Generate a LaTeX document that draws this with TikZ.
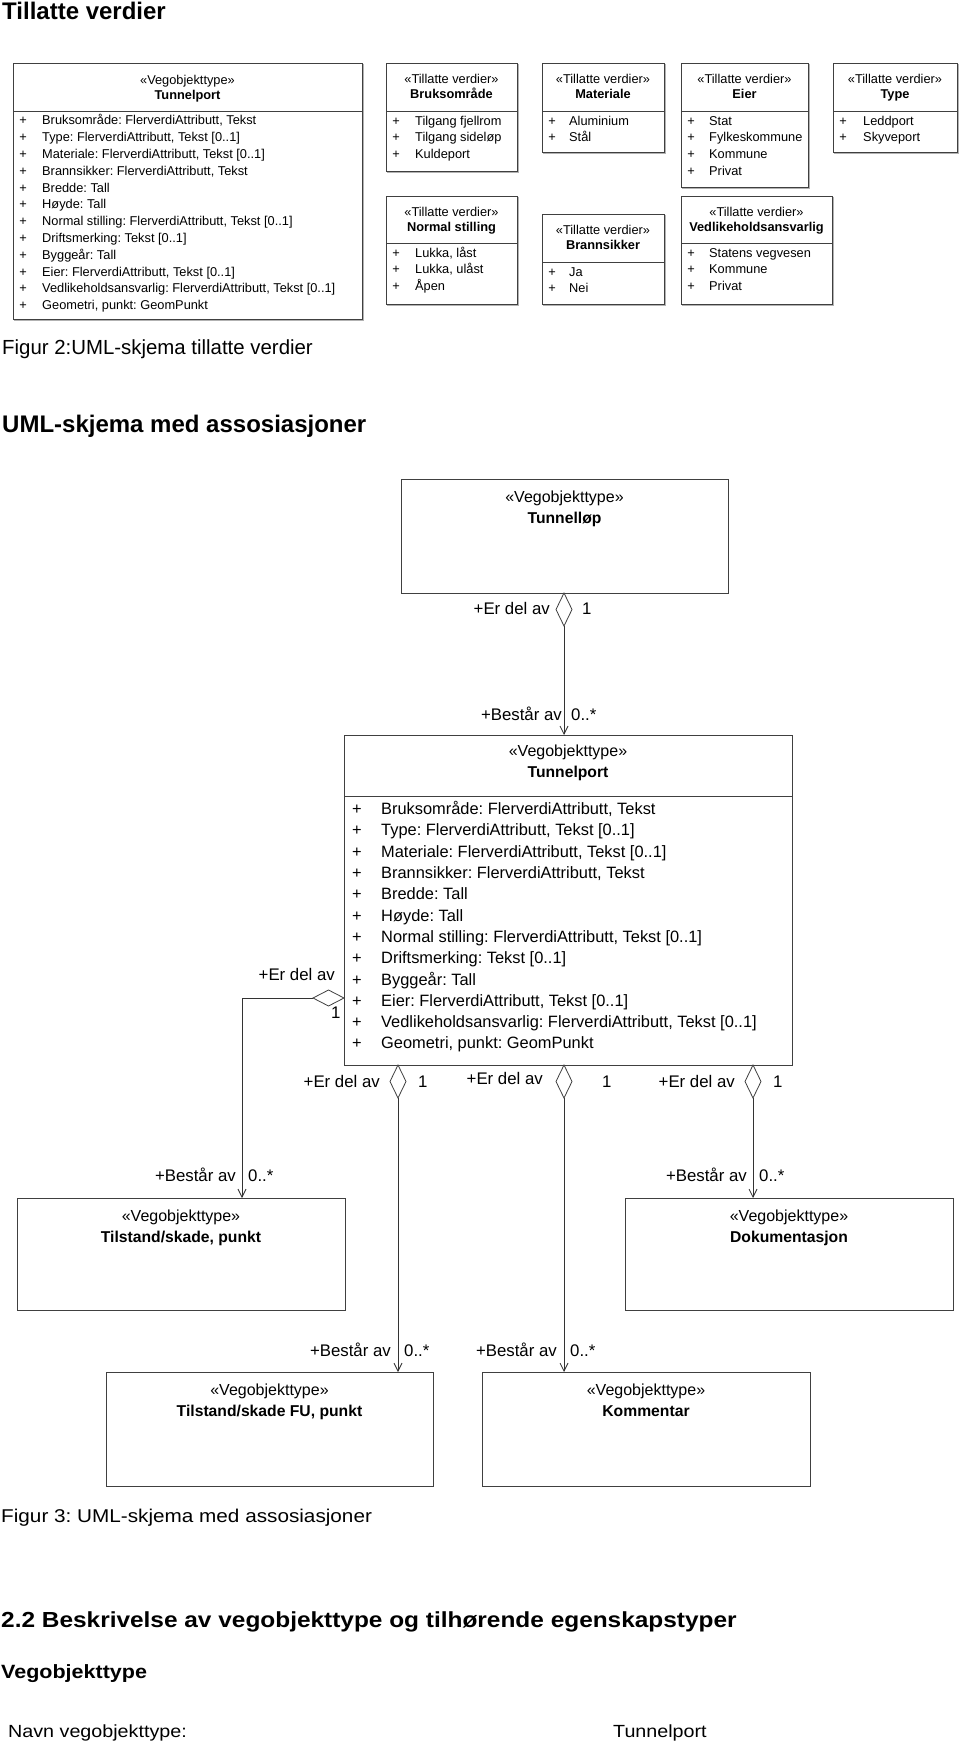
\documentclass[tikz,border=0pt]{standalone}
\usepackage{fontspec}
\setmainfont{Liberation Sans}
\newfontfamily\stretchfont[FakeStretch=1.12]{Liberation Sans}
\usetikzlibrary{shapes.geometric,arrows.meta}

\tikzset{
  umlbox/.style={draw=black!75, line width=0.9pt, anchor=north west, inner sep=0pt, outer sep=0pt},
  boxline/.style={draw=black!75, line width=0.9pt},
  shadowline/.style={draw=black!30, line width=0.9pt},
  sm/.style={font=\fontsize{12.8}{15}\selectfont, inner sep=0pt},
  smb/.style={font=\fontsize{12.8}{15}\selectfont\bfseries, inner sep=0pt},
  lg/.style={font=\fontsize{16}{19}\selectfont, inner sep=0pt},
  lgb/.style={font=\fontsize{15.7}{19}\selectfont\bfseries, inner sep=0pt},
  lrow/.style={font=\fontsize{16.4}{19}\selectfont, inner sep=0pt},
  lbl/.style={font=\fontsize{16.8}{19}\selectfont, inner sep=0pt},
  agg/.style={diamond, draw=black!75, fill=white, line width=0.8pt, inner sep=0pt, outer sep=0pt, minimum width=16pt, minimum height=33pt},
  aggh/.style={diamond, draw=black!75, fill=white, line width=0.8pt, inner sep=0pt, outer sep=0pt, minimum width=31pt, minimum height=16pt},
  assoc/.style={draw=black!80, line width=0.8pt, -{Straight Barb[length=8pt,width=8pt]}},
  ttl/.style={font=\fontsize{24}{28}\selectfont\bfseries, inner sep=0pt, anchor=base west},
  captxt/.style={font=\fontsize{20.4}{24}\selectfont, inner sep=0pt, anchor=base west},
  bcaptxt/.style={font=\stretchfont\fontsize{18.5}{22}\selectfont, inner sep=0pt, anchor=base west},
}

% Tillatte verdier box
\newcommand{\tvbox}[9]{%
  \node[umlbox, minimum width=#4pt, minimum height=#5pt] (#1) at (#2,#3) {};
  \draw[shadowline] ([xshift=1.3pt,yshift=-1pt]#1.north east) -- ([xshift=1.3pt,yshift=-1.3pt]#1.south east) -- ([xshift=1pt,yshift=-1.3pt]#1.south west);
  \draw[boxline] ([yshift=-#6pt]#1.north west) -- ([yshift=-#6pt]#1.north east);
  \node[sm, anchor=mid] (#1-st) at ({#2+#4/2},{#3+17.5}) {«Tillatte verdier»};
  \node[smb, anchor=mid] (#1-nm) at ({#2+#4/2},{#3+32.5}) {#7};
  \foreach \t [count=\i from 0] in {#8} {
    \node[sm, anchor=mid] (#1-p\i) at ({#2+10},{#3+#6+11.5+16.75*\i}) {+};
    \node[sm, anchor=mid west] (#1-r\i) at ({#2+#9},{#3+#6+11.5+16.75*\i}) {\t};
  }
}
% Vegobjekttype box (lower diagram)
\newcommand{\vobox}[6]{%
  \node[umlbox, minimum width=#4pt, minimum height=#5pt] (#1) at (#2,#3) {};
  \node[lg, anchor=mid] (#1-st) at ({#2+#4/2},{#3+21}) {«Vegobjekttype»};
  \node[lgb, anchor=mid] (#1-nm) at ({#2+#4/2},{#3+42}) {#6};
}

\newcommand{\tpattrs}{{Bruksområde: FlerverdiAttributt, Tekst},{Type: FlerverdiAttributt, Tekst [0..1]},{Materiale: FlerverdiAttributt, Tekst [0..1]},{Brannsikker: FlerverdiAttributt, Tekst},{Bredde: Tall},{Høyde: Tall},{Normal stilling: FlerverdiAttributt, Tekst [0..1]},{Driftsmerking: Tekst [0..1]},{Byggeår: Tall},{Eier: FlerverdiAttributt, Tekst [0..1]},{Vedlikeholdsansvarlig: FlerverdiAttributt, Tekst [0..1]},{Geometri, punkt: GeomPunkt}}

\begin{document}
\frenchspacing
\begin{tikzpicture}[x=1pt,y=-1pt]
\useasboundingbox[fill=white] (0,0) rectangle (960,1744);

% ---------- Titles ----------
\node[ttl] (title1) at (2,20) {Tillatte verdier};
\node[captxt] (cap2) at (2,354) {Figur 2:UML-skjema tillatte verdier};
\node[ttl] (title2) at (2,432) {UML-skjema med assosiasjoner};

% ---------- Small Tunnelport ----------
\node[umlbox, minimum width=349pt, minimum height=256pt] (tps) at (13,63) {};
\draw[shadowline] ([xshift=1.3pt,yshift=-1pt]tps.north east) -- ([xshift=1.3pt,yshift=-1.3pt]tps.south east) -- ([xshift=1pt,yshift=-1.3pt]tps.south west);
\draw[boxline] ([yshift=-48pt]tps.north west) -- ([yshift=-48pt]tps.north east);
\node[sm, anchor=mid] (tps-st) at (187.5,81.5) {«Vegobjekttype»};
\node[smb, anchor=mid] (tps-nm) at (187.5,97) {Tunnelport};
\foreach \t [count=\i from 0] in \tpattrs {
  \node[sm, anchor=mid] (tps-p\i) at (23,{122.3+16.8*\i}) {+};
  \node[sm, anchor=mid west] (tps-r\i) at (42,{122.3+16.8*\i}) {\t};
}

% ---------- Tillatte verdier boxes ----------
\tvbox{bruk}{386}{63}{131}{108}{48}{Bruksområde}{{Tilgang fjellrom},{Tilgang sideløp},{Kuldeport}}{29}
\tvbox{mat}{542}{63}{122}{89}{48}{Materiale}{{Aluminium},{Stål}}{27}
\tvbox{eier}{681}{63}{127}{124}{48}{Eier}{{Stat},{Fylkeskommune},{Kommune},{Privat}}{28}
\tvbox{typ}{833}{63}{124}{89}{48}{Type}{{Leddport},{Skyveport}}{30}
\tvbox{norm}{386}{196}{131}{108}{47}{Normal stilling}{{Lukka, låst},{Lukka, ulåst},{Åpen}}{29}
\tvbox{brann}{542}{214}{122}{90}{48}{Brannsikker}{{Ja},{Nei}}{27}
\tvbox{vedl}{681}{196}{151}{108}{47}{Vedlikeholdsansvarlig}{{Statens vegvesen},{Kommune},{Privat}}{28}

% ---------- Lower diagram ----------
\vobox{tl}{401}{479}{327}{114}{Tunnelløp}

\node[umlbox, minimum width=448pt, minimum height=330pt] (tp) at (344,735) {};
\draw[boxline] ([yshift=-61pt]tp.north west) -- ([yshift=-61pt]tp.north east);
\node[lg, anchor=mid] (tp-st) at (568,754) {«Vegobjekttype»};
\node[lgb, anchor=mid] (tp-nm) at (568,775) {Tunnelport};
\foreach \t [count=\i from 0] in \tpattrs {
  \node[lrow, anchor=mid] (tp-p\i) at (357,{812+21.3*\i}) {+};
  \node[lrow, anchor=mid west] (tp-r\i) at (381,{812+21.3*\i}) {\t};
}

\vobox{tsp}{17}{1198}{328}{112}{Tilstand/skade, punkt}
\vobox{dok}{625}{1198}{328}{112}{Dokumentasjon}
\vobox{fu}{106}{1372}{327}{114}{Tilstand/skade FU, punkt}
\vobox{kom}{482}{1372}{328}{114}{Kommentar}

% aggregation diamonds
\node[agg, anchor=north] (dtl) at (564,593) {};
\node[agg, anchor=north] (d1) at (398,1065) {};
\node[agg, anchor=north] (d2) at (564,1065) {};
\node[agg, anchor=north] (d3) at (753,1065) {};
\node[aggh, anchor=east] (dl) at (344,998) {};
\coordinate (bend) at (242,998);

% connectors
\draw[assoc] (dtl.south) -- (dtl.south |- tp.north);
\draw[assoc] (d1.south) -- (d1.south |- fu.north);
\draw[assoc] (d2.south) -- (d2.south |- kom.north);
\draw[assoc] (d3.south) -- (d3.south |- dok.north);
\draw[assoc] (dl.west) -- (bend) -- (bend |- tsp.north);

% role labels
\node[lbl, anchor=mid east] (l1) at (550,612) {+Er del av};
\node[lbl, anchor=mid west] (m1) at (582,612) {1};
\node[lbl, anchor=mid east] (l2) at (562,718) {+Består av};
\node[lbl, anchor=mid west] (m2) at (571,718) {0..*};

\node[lbl, anchor=mid east] (l3) at (335,978) {+Er del av};
\node[lbl, anchor=mid west] (m3) at (331,1016) {1};

\node[lbl, anchor=mid east] (l4) at (380,1085) {+Er del av};
\node[lbl, anchor=mid west] (m4) at (418,1085) {1};
\node[lbl, anchor=mid east] (l5) at (543,1082) {+Er del av};
\node[lbl, anchor=mid west] (m5) at (602,1085) {1};
\node[lbl, anchor=mid east] (l6) at (735,1085) {+Er del av};
\node[lbl, anchor=mid west] (m6) at (773,1085) {1};

\node[lbl, anchor=mid east] (l7) at (236,1179) {+Består av};
\node[lbl, anchor=mid west] (m7) at (248,1179) {0..*};
\node[lbl, anchor=mid east] (l8) at (747,1179) {+Består av};
\node[lbl, anchor=mid west] (m8) at (759,1179) {0..*};
\node[lbl, anchor=mid east] (l9) at (391,1354) {+Består av};
\node[lbl, anchor=mid west] (m9) at (404,1354) {0..*};
\node[lbl, anchor=mid east] (l10) at (557,1354) {+Består av};
\node[lbl, anchor=mid west] (m10) at (570,1354) {0..*};

% ---------- Bottom text ----------
\node[bcaptxt] (cap3) at (1,1522) {Figur 3: UML-skjema med assosiasjoner};
\node[font=\stretchfont\fontsize{21.8}{26}\selectfont\bfseries, inner sep=0pt, anchor=base west] (sec) at (1,1627) {2.2 Beskrivelse av vegobjekttype og tilhørende egenskapstyper};
\node[font=\stretchfont\fontsize{19.2}{22}\selectfont\bfseries, inner sep=0pt, anchor=base west] (sub) at (1,1678) {Vegobjekttype};
\node[font=\stretchfont\fontsize{17.6}{21}\selectfont, inner sep=0pt, anchor=base west] (navn) at (8,1737) {Navn vegobjekttype:};
\node[font=\stretchfont\fontsize{17.6}{21}\selectfont, inner sep=0pt, anchor=base west] (navnv) at (613,1737) {Tunnelport};
\end{tikzpicture}
\end{document}
